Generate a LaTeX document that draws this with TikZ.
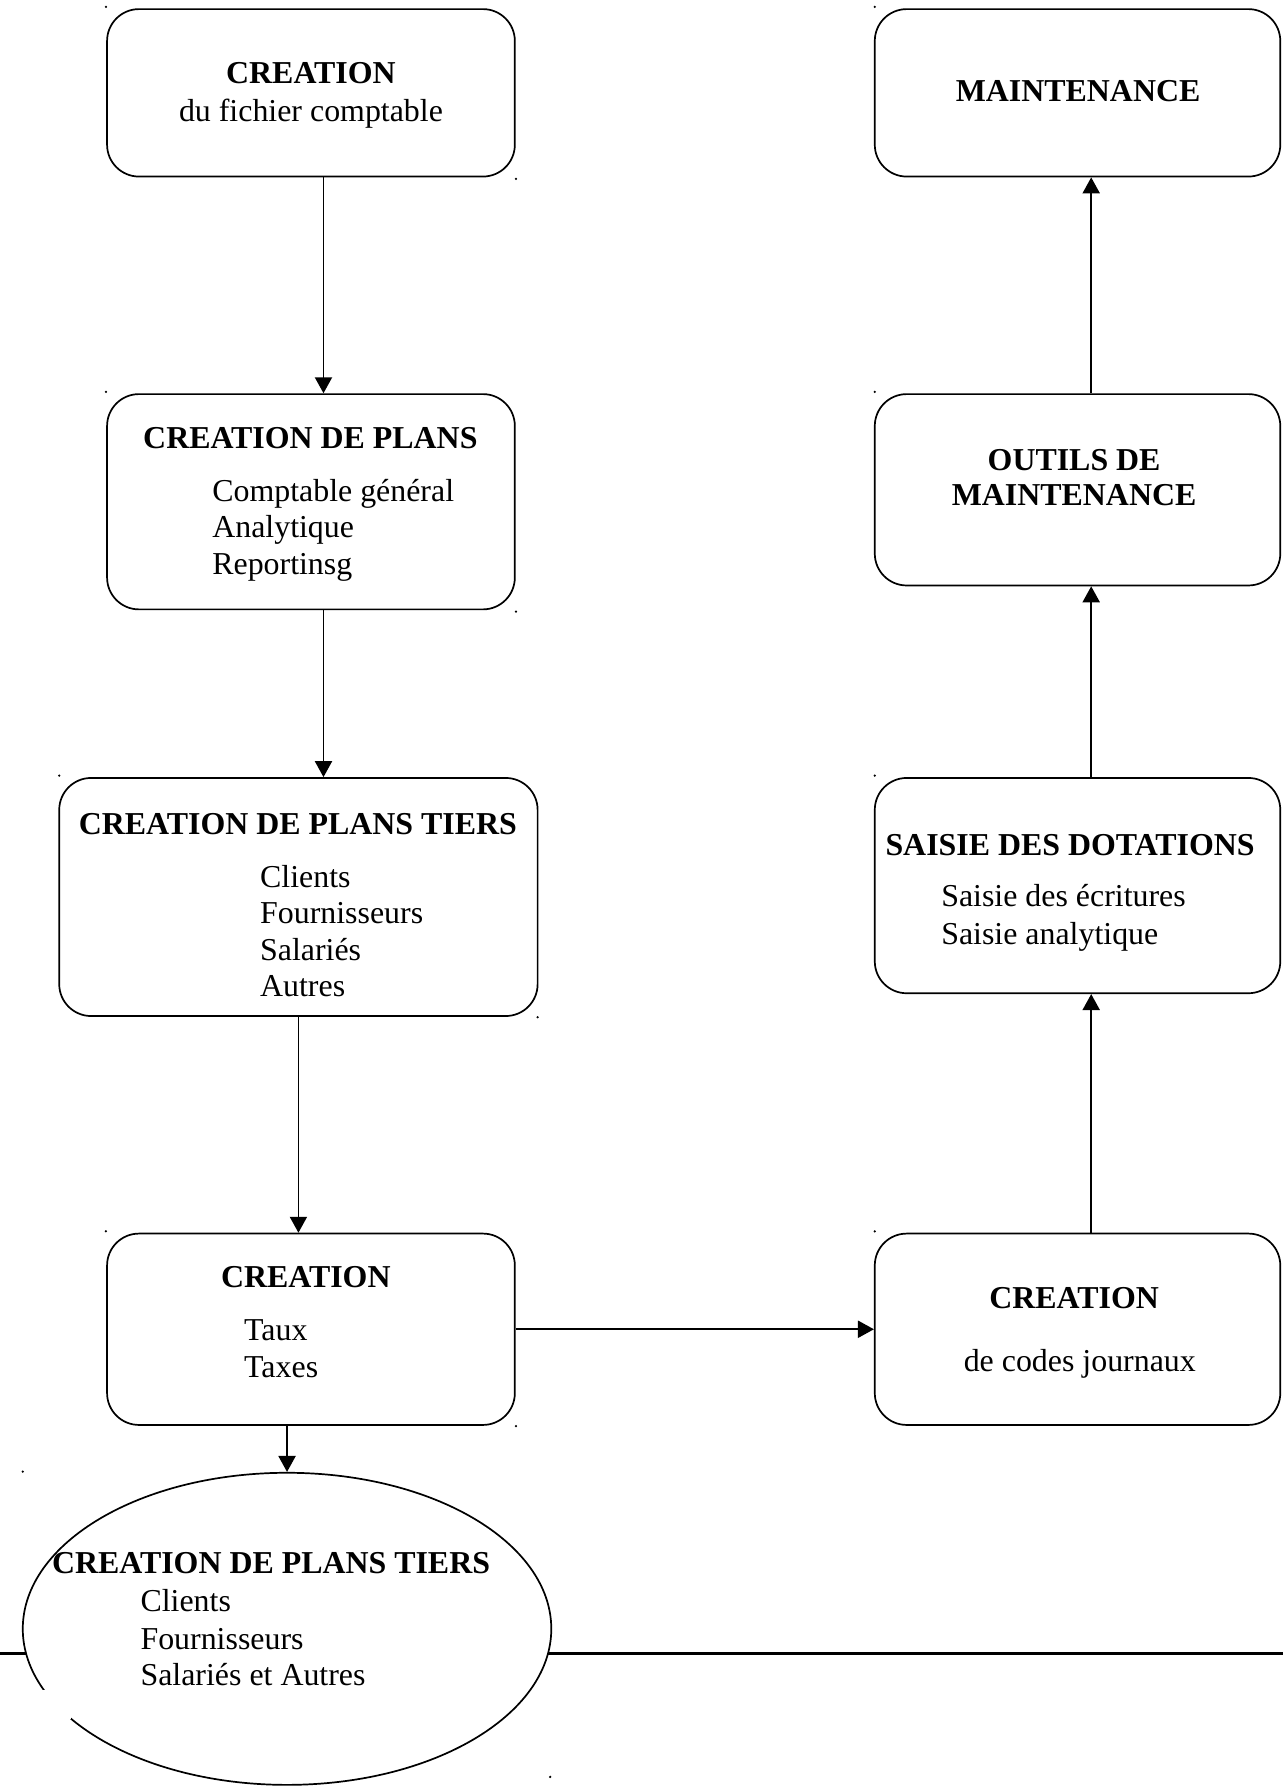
\documentclass[tikz,border=0pt]{standalone}
\usepackage{fontspec}
\setmainfont{Liberation Serif}
\usetikzlibrary{arrows.meta,shapes.geometric}

\begin{document}
\begin{tikzpicture}[x=0.5pt,y=-0.5pt,
  every node/.style={inner sep=0pt,font=\fontsize{14pt}{16pt}\selectfont},
  box/.style={draw,line width=0.75pt,rounded corners=14pt},
  title/.style={anchor=base,font=\fontsize{14pt}{16pt}\selectfont\bfseries},
  item/.style={anchor=base west},
  line/.style={anchor=base},
  arr/.style={line width=0.75pt,-{Triangle[length=7pt,width=7.5pt]}}]
\useasboundingbox (0,0) rectangle (1126,1568);
\coordinate (railL) at (0,1452);
\coordinate (railR) at (1126,1452);
\draw [line width=1.3pt] (railL) -- (railR);
\node [box,minimum width=179pt,minimum height=73.5pt] (b1) at (273,81.5) {};
\node [title] (b1t) at (273,73) {CREATION};
\node [line] (b1a) at (273,107) {du fichier comptable};
\node [box,minimum width=179pt,minimum height=94.5pt] (b2) at (273,440.5) {};
\node [title] (b2t) at (272.5,394) {CREATION DE PLANS};
\node [item] (b2a) at (186,440) {Comptable général};
\node [item] (b2b) at (186,472) {Analytique};
\node [item] (b2c) at (186,504) {Reportinsg};
\node [box,minimum width=210pt,minimum height=104.5pt] (b3) at (262,787.5) {};
\node [title] (b3t) at (261.5,733) {CREATION DE PLANS TIERS};
\node [item] (b3a) at (228,779) {Clients};
\node [item] (b3b) at (228,811) {Fournisseurs};
\node [item] (b3c) at (228,843) {Salariés};
\node [item] (b3d) at (228,875) {Autres};
\node [box,minimum width=179pt,minimum height=84pt] (b4) at (273,1167) {};
\node [title] (b4t) at (268.5,1130) {CREATION};
\node [item] (b4a) at (214,1177) {Taux};
\node [item] (b4b) at (214,1209) {Taxes};
\node [box,minimum width=178pt,minimum height=84pt] (b5) at (946,1167) {};
\node [title] (b5t) at (943,1149) {CREATION};
\node [line] (b5a) at (948,1204) {de codes journaux};
\node [box,minimum width=178pt,minimum height=94.5pt] (b6) at (946,777.5) {};
\node [title] (b6t) at (939.5,751) {SAISIE DES DOTATIONS};
\node [item] (b6a) at (826,796) {Saisie des écritures};
\node [item] (b6b) at (826,829) {Saisie analytique};
\node [box,minimum width=178pt,minimum height=84pt] (b7) at (946,430) {};
\node [title] (b7t) at (943,413) {OUTILS DE};
\node [title] (b7u) at (943,444) {MAINTENANCE};
\node [box,minimum width=178pt,minimum height=73.5pt] (b8) at (946,81.5) {};
\node [title] (b8t) at (946.5,89) {MAINTENANCE};
\node [ellipse,draw,line width=0.75pt,fill=white,minimum width=232pt,minimum height=137pt] (ell) at (252,1430) {};
\fill [white] (35,1484) rectangle (62,1509);
\node [title] (ellt) at (238,1381) {CREATION DE PLANS TIERS};
\node [item] (ella) at (123,1415) {Clients};
\node [item] (ellb) at (123,1448) {Fournisseurs};
\node [item] (ellc) at (123,1480) {Salariés et Autres};
\draw [arr] ([xshift=5.5pt]b1.south) -- ([xshift=5.5pt]b2.north);
\draw [arr] ([xshift=5.5pt]b2.south) -- ([xshift=11pt]b3.north);
\draw [arr] (b3.south) -- ([xshift=-5.5pt]b4.north);
\draw [arr] ([xshift=-10.5pt]b4.south) -- (ell.north);
\draw [arr] (b4.east) -- (b5.west);
\draw [arr] ([xshift=6pt]b5.north) -- ([xshift=6pt]b6.south);
\draw [arr] ([xshift=6pt]b6.north) -- ([xshift=6pt]b7.south);
\draw [arr] ([xshift=6pt]b7.north) -- ([xshift=6pt]b8.south);
\foreach \p in {(93,6),(453,157),(93,344),(453,537),(52,681),(472,893),(93,1081),(453,1252),(768,6),(768,344),(768,681),(768,1081),(20,1292),(483,1560)}
  \fill \p circle (1.1);
\end{tikzpicture}
\end{document}
